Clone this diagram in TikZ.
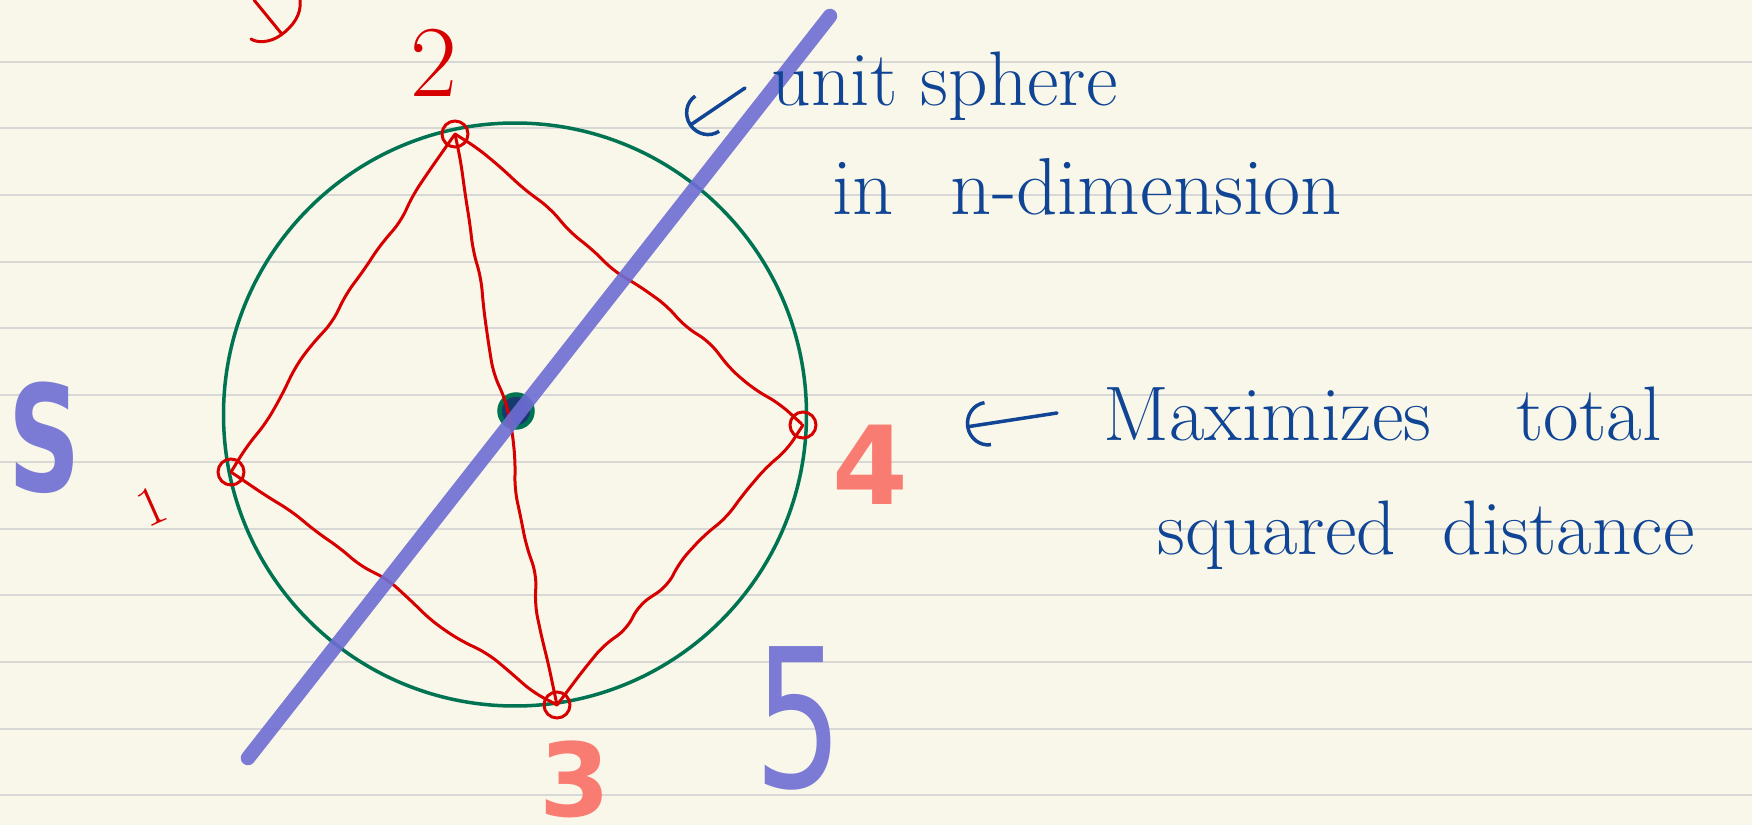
\documentclass[tikz,border=0pt]{standalone}
\usepackage{fontspec}
\usetikzlibrary{positioning, arrows.meta, decorations.pathmorphing}

\newfontfamily\markerfont{DejaVu Sans}
\definecolor{paper}{RGB}{249,247,233}
\definecolor{rule}{RGB}{216,216,214}
\definecolor{penred}{RGB}{214,0,0}
\definecolor{pengreen}{RGB}{0,116,82}
\definecolor{penblue}{RGB}{16,68,148}
\definecolor{hilite}{RGB}{123,123,214}
\definecolor{hiliteline}{RGB}{110,110,212}
\definecolor{salmon}{RGB}{249,124,114}
\definecolor{inkdark}{RGB}{22,58,110}

\begin{document}
\begin{tikzpicture}[
        % one unit = one pixel of the page
        x=0.1mm, y=-0.1mm,
        % Pen strokes
        ink/.style={line width=0.3mm, color=penred, line cap=round, line join=round},
        wobbly/.style={ink, decorate,
                decoration={random steps, segment length=3mm, amplitude=0.45mm},
                rounded corners=1.2mm},
        vertex/.style={circle, draw=penred, line width=0.3mm,
                minimum size=2.6mm, inner sep=0pt},
        pen/.style={line width=0.35mm, color=penblue, line cap=round},
        note/.style={font=\fontsize{22}{26}\selectfont, text=penblue,
                anchor=base west, inner sep=0pt},
        % Highlighter strokes
        highlight/.style={line width=1.45mm, color=hiliteline, opacity=0.9, line cap=round},
        marker/.style={inner sep=0pt},
        >={Arc Barb[length=2.2mm, width=4.6mm]}
    ]

    %% ---- Ruled paper ----
    \fill[paper] (0,0) rectangle (1752,825);
    \useasboundingbox (0,0) rectangle (1752,825);
    \foreach \k in {0,...,11}
    \draw[rule, line width=0.2mm] (0,{61.7+66.7*\k}) -- (1752,{61.7+66.7*\k});

    %% ---- Unit sphere ----
    \node[circle, draw=pengreen, line width=0.35mm, minimum size=58.3mm,
        inner sep=0pt] (sphere) at (515,414.5) {};

    %% ---- Points on the sphere ----
    \node[vertex] (p1) at (231,472) {};
    \node[vertex] (p2) at (455,134) {};
    \node[vertex] (p3) at (557,705) {};
    \node[vertex] (p4) at (803,425) {};
    \node[circle, fill=inkdark, draw=pengreen, line width=0.45mm,
        minimum size=3.3mm, inner sep=0pt] (c0) at (516,411) {};

    %% ---- Wobbly edges between the points ----
    \pgfmathsetseed{7}
    \draw[wobbly] (p1.center) -- (p2.center);
    \draw[wobbly] (p2.center) -- (p4.center);
    \draw[wobbly] (p4.center) -- (p3.center);
    \draw[wobbly] (p3.center) -- (p1.center);
    \draw[wobbly] (p2.center) -- (p3.center);

    %% ---- Highlighted direction ----
    \coordinate (ltop) at (830,16);
    \coordinate (lbot) at (248,758);
    \draw[highlight] (lbot) -- (ltop);

    %% ---- Labels of the points ----
    \node[font=\fontsize{29}{32}\selectfont, text=penred] (lbl2) at (434,63) {2};
    \node[font=\fontsize{16}{18}\selectfont, text=penred, rotate=24] (lbl1) at (152,506) {1};
    \node[marker, font=\markerfont\bfseries\fontsize{31}{34}\selectfont, text=salmon] (lbl4) at (870,465) {4};
    \node[marker, font=\markerfont\bfseries\fontsize{29}{32}\selectfont, text=salmon] (lbl3) at (575,779) {3};
    \node[marker, font=\markerfont\bfseries\fontsize{42}{45}\selectfont, text=hilite] (lblS) at (45,438) {\scalebox{0.68}[1]{S}};
    \node[marker, font=\markerfont\fontsize{55}{58}\selectfont, text=hilite] (lbl5) at (799,718) {\scalebox{0.72}[1]{5}};

    % stroke cut by the top edge
    \draw[ink] (254,0) -- (281,33);
    \draw[ink] (300,0) .. controls (302,15) and (292,27) .. (281,35)
    .. controls (270,43) and (257,43) .. (251,39);

    %% ---- Notes ----
    \node[note] (unit) at (771,106) {unit sphere};
    \node[note, font=\fontsize{23}{26}\selectfont] (dim) at (832,215) {in\hspace{0.7em}n-dimension};
    \node[note] (maxi) at (1103,441) {Maximizes\hspace{1.1em}total};
    \node[note] (sqd) at (1157,555) {squared\hspace{0.3em} distance};

    \coordinate (unittail) at (745,88);
    \coordinate (unittip) at (689,126);
    \draw[pen, ->] (unittail) -- (unittip);

    \coordinate (maxtail) at (1057,413);
    \coordinate (maxtip) at (966,427);
    \draw[pen, ->] (maxtail) -- (maxtip);

\end{tikzpicture}
\end{document}
